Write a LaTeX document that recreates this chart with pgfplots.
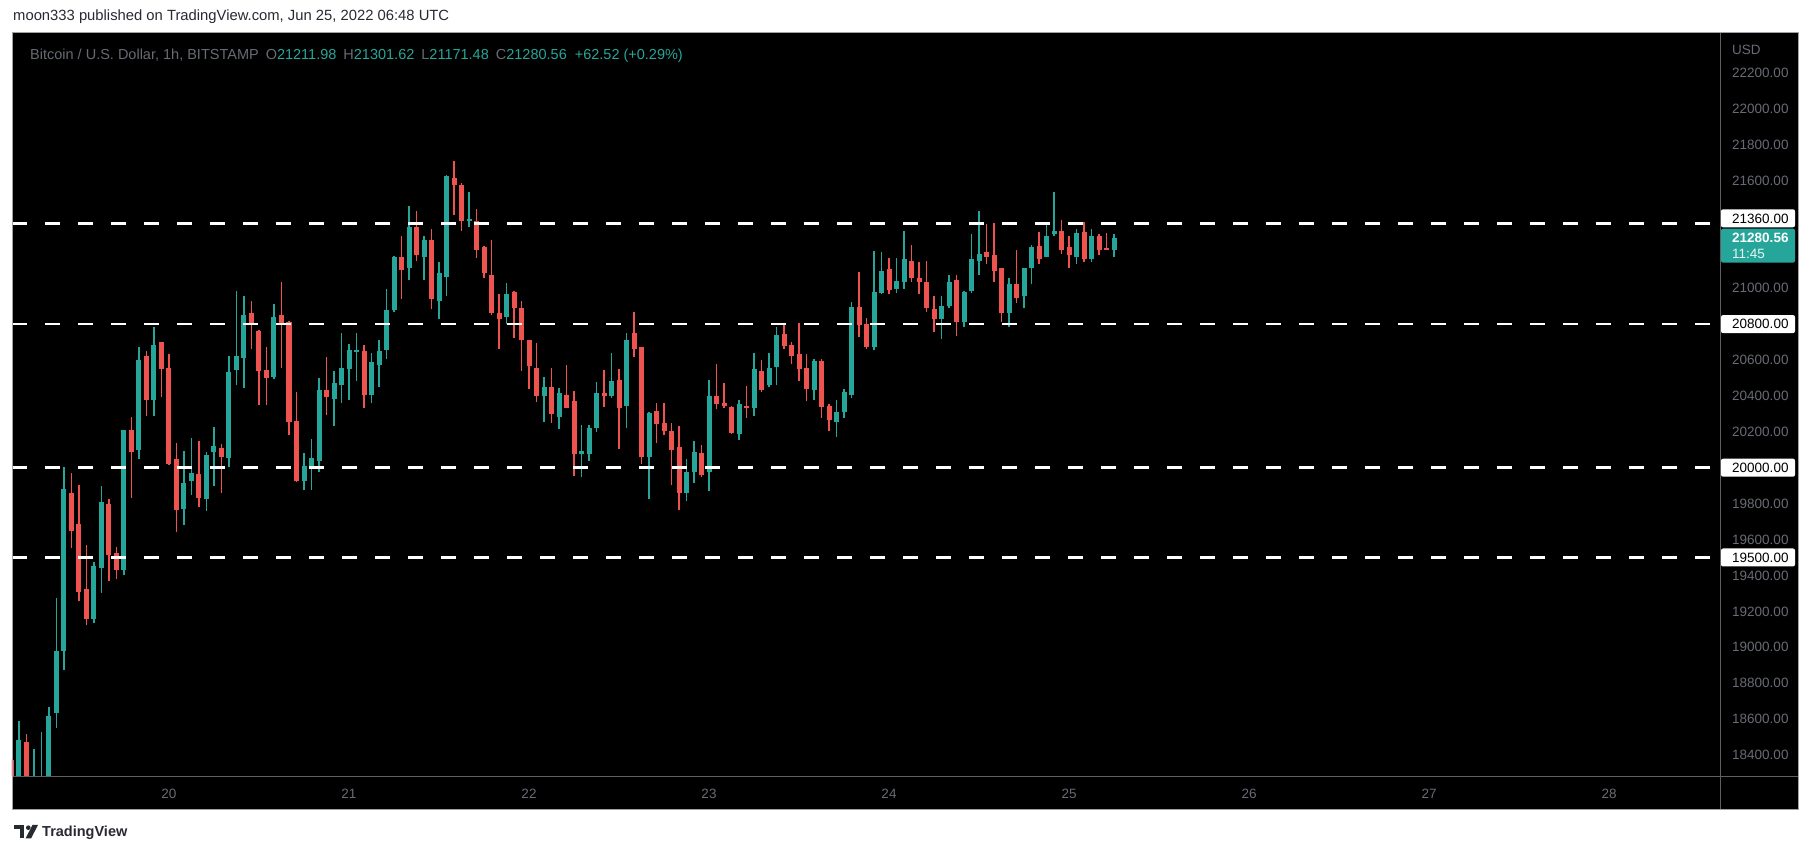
\documentclass[border=0pt]{standalone}
\usepackage{fontspec}
\setmainfont{Liberation Sans}
\usepackage{pgfplots}
\usepackage{pgfplotstable}
\pgfplotsset{compat=1.18}
\definecolor{tvgreen}{HTML}{26A69A}
\definecolor{tvred}{HTML}{EF5350}
\definecolor{scalegray}{RGB}{104,107,116}
\definecolor{sepgray}{RGB}{95,95,100}
\definecolor{bordgray}{RGB}{160,160,168}
\definecolor{toptext}{RGB}{40,42,50}

% h = hours since Jun 19 00:00 UTC; O H L C
\pgfplotstableread{
h O H L C
4 18250 18590 18200 18484
6 18150 18434 18100 18200
7 18200 18528 18150 18270
8 18250 18668 18200 18617
9 18634 19274 18553 18979
10 18979 20002 18873 19880
14 19157 19474 19135 19452
15 19441 19897 19302 19808
18 19430 20210 19402 20208
20 20097 20670 20047 20598
22 20377 20781 20288 20681
26 19770 20091 19680 19913
27 19926 20164 19847 19969
29 19824 20086 19758 20069
30 20086 20225 19897 20119
32 20052 20620 20002 20531
33 20542 20987 20458 20620
34 20609 20959 20442 20848
38 20508 20914 20492 20837
42 19926 20080 19874 20008
43 20002 20158 19874 20052
44 20036 20498 19976 20431
46 20381 20537 20231 20470
47 20459 20748 20359 20553
48 20548 20687 20375 20654
49 20643 20748 20481 20654
51 20403 20637 20359 20587
52 20570 20709 20448 20648
53 20654 20993 20603 20876
54 20876 21180 20870 21176
56 21110 21460 21048 21343
58 21176 21288 21048 21271
60 20926 21143 20826 21082
61 21060 21633 20954 21627
64 21376 21537 21343 21387
69 20837 21026 20803 20965
74 20397 20503 20253 20447
76 20280 20442 20214 20414
79 20075 20236 19947 20091
80 20075 20236 20036 20219
81 20219 20475 20200 20414
83 20397 20637 20386 20481
85 20342 20748 20219 20709
88 20058 20308 19824 20303
93 19858 20047 19813 19975
94 19975 20147 19914 20086
96 19975 20486 19869 20397
100 20186 20375 20153 20353
102 20331 20637 20287 20548
104 20459 20637 20448 20554
105 20559 20782 20459 20737
110 20431 20604 20376 20593
113 20253 20376 20170 20309
114 20309 20437 20276 20420
115 20404 20921 20387 20893
118 20671 21205 20654 20977
119 20971 21199 20965 21093
121 20993 21166 20971 21038
122 21032 21321 20998 21165
127 20826 20959 20715 20898
128 20898 21076 20887 21037
130 20809 20982 20781 20976
131 20982 21299 20971 21160
132 21154 21427 21076 21193
136 20859 21054 20781 21021
138 20954 21110 20887 21110
139 21110 21243 21021 21232
141 21171 21360 21171 21288
142 21299 21538 21293 21321
145 21171 21332 21137 21310
147 21160 21332 21148 21293
150 21211.98 21301.62 21171.48 21280.56
}\up

\pgfplotstableread{
h O H L C
3 18373 18380 18200 18250
5 18473 18517 18200 18250
11 19858 19969 19552 19646
12 19685 19902 19257 19307
13 19324 19569 19124 19157
16 19797 19824 19368 19513
17 19524 19557 19379 19430
19 20208 20280 19830 20086
21 20620 20648 20286 20375
23 20698 20700 20393 20549
24 20558 20631 20015 20021
25 20047 20136 19640 19765
28 19963 20147 19780 19830
31 20108 20130 19858 20058
35 20864 20926 20659 20798
36 20759 20765 20347 20536
37 20542 20675 20347 20497
39 20848 21037 20558 20803
40 20809 20815 20180 20253
41 20258 20419 19920 19926
45 20431 20615 20292 20392
50 20648 20681 20331 20403
55 21171 21288 20937 21099
57 21343 21432 21149 21182
59 21271 21332 20882 20937
62 21616 21710 21410 21577
63 21577 21588 21321 21376
65 21376 21443 21170 21215
66 21232 21235 21054 21087
67 21076 21270 20853 20864
68 20864 20965 20659 20831
70 20976 20982 20725 20892
71 20892 20931 20536 20709
72 20709 20712 20436 20564
73 20553 20692 20364 20397
75 20447 20553 20247 20297
77 20403 20570 20330 20330
78 20369 20425 19952 20075
82 20414 20542 20336 20397
84 20486 20548 20103 20331
86 20753 20865 20614 20664
87 20670 20675 20019 20058
89 20314 20358 20136 20242
90 20247 20358 20180 20203
91 20203 20247 19902 20097
92 20114 20231 19763 19858
95 20080 20125 19947 19958
97 20397 20575 20325 20353
98 20359 20470 20331 20342
99 20336 20342 20190 20192
101 20342 20453 20275 20331
103 20537 20598 20420 20431
106 20743 20793 20659 20676
107 20682 20698 20576 20621
108 20632 20804 20482 20548
109 20554 20632 20370 20437
111 20593 20604 20276 20337
112 20342 20354 20203 20265
116 20893 21088 20726 20793
117 20799 20832 20659 20671
120 21104 21166 20965 20988
123 21154 21243 21032 21054
124 21059 21143 20965 21032
125 21037 21154 20870 20887
126 20882 20954 20754 20826
129 21043 21071 20731 20809
133 21204 21360 21132 21176
134 21182 21365 21032 21093
135 21110 21115 20809 20859
137 21021 21215 20920 20948
140 21237 21315 21137 21160
143 21321 21377 21193 21210
144 21232 21293 21115 21182
146 21315 21371 21143 21165
148 21293 21299 21187 21215
149 21221 21310 21210 21212
}\down

\newcommand{\scalefont}{\fontsize{13.5}{16}\selectfont}

\begin{document}
\begin{tikzpicture}
\useasboundingbox (0pt,0pt) rectangle (1813pt,856pt);
\fill[white] (0pt,0pt) rectangle (1813pt,856pt);
\fill[black] (12pt,46pt) rectangle (1798pt,823pt);

\begin{axis}[
  at={(12pt,80pt)}, anchor=south west,
  scale only axis, width=1708pt, height=743pt,
  xmin=3.067, xmax=230.8, ymin=18283.3, ymax=22421.1,
  scaled y ticks=false, scaled x ticks=false,
  axis line style={draw=none},
  tick style={draw=none},
  major tick length=0pt,
  /pgf/number format/assume math mode=true,
  xtick={24,48,72,96,120,144,168,192,216},
  xticklabels={20,21,22,23,24,25,26,27,28},
  ytick={18400,18600,18800,19000,19200,19400,19600,19800,20200,20400,20600,21000,21600,21800,22000,22200},
  yticklabels={18400.00,18600.00,18800.00,19000.00,19200.00,19400.00,19600.00,19800.00,20200.00,20400.00,20600.00,21000.00,21600.00,21800.00,22000.00,22200.00},
  yticklabel pos=right,
  xticklabel style={anchor=north, inner sep=0pt, yshift=-13pt, text=scalegray, font=\scalefont},
  yticklabel style={anchor=west, inner sep=0pt, xshift=12pt, text=scalegray, font=\scalefont},
  clip=true,
]
% wicks
\addplot[forget plot, draw=none, mark=none,
  error bars/.cd, y dir=plus, y explicit, error mark=none,
  error bar style={draw=tvgreen, line width=1.1pt}]
  table[x=h, y=L, y error plus expr=\thisrow{H}-\thisrow{L}] {\up};
\addplot[forget plot, draw=none, mark=none,
  error bars/.cd, y dir=plus, y explicit, error mark=none,
  error bar style={draw=tvred, line width=1.1pt}]
  table[x=h, y=L, y error plus expr=\thisrow{H}-\thisrow{L}] {\down};
% bodies
\addplot[forget plot, draw=none, mark=none,
  error bars/.cd, y dir=plus, y explicit, error mark=none,
  error bar style={draw=tvgreen, line width=5pt}]
  table[x=h, y expr={min(\thisrow{O},\thisrow{C})}, y error plus expr={max(abs(\thisrow{C}-\thisrow{O}),6)}] {\up};
\addplot[forget plot, draw=none, mark=none,
  error bars/.cd, y dir=plus, y explicit, error mark=none,
  error bar style={draw=tvred, line width=5pt}]
  table[x=h, y expr={min(\thisrow{O},\thisrow{C})}, y error plus expr={max(abs(\thisrow{C}-\thisrow{O}),6)}] {\down};
% horizontal levels
\addplot[forget plot, white, line width=2.6pt, dash pattern=on 15pt off 18pt] coordinates {(3.067,21360) (230.8,21360)};
\addplot[forget plot, white, line width=2.6pt, dash pattern=on 15pt off 18pt] coordinates {(3.067,20800) (230.8,20800)};
\addplot[forget plot, white, line width=2.6pt, dash pattern=on 15pt off 18pt] coordinates {(3.067,20000) (230.8,20000)};
\addplot[forget plot, white, line width=2.6pt, dash pattern=on 15pt off 18pt] coordinates {(3.067,19500) (230.8,19500)};
\end{axis}

% separators and border
\draw[sepgray, line width=1pt] (12pt,79.5pt) -- (1798pt,79.5pt);
\draw[sepgray, line width=1pt] (1720.5pt,46pt) -- (1720.5pt,823pt);
\draw[bordgray, line width=1pt] (12pt,46pt) rectangle (1798pt,823pt);

% price scale title
\node[anchor=west, inner sep=0pt, text=scalegray, font=\scalefont] at (1732pt,806pt) {USD};

% level labels
\fill[white, rounded corners=2pt] (1721pt,628.7pt) rectangle (1795pt,646.7pt);
\node[anchor=west, inner sep=0pt, font=\scalefont] at (1732pt,637.6pt) {21360.00};
\fill[white, rounded corners=2pt] (1721pt,522.9pt) rectangle (1795pt,540.9pt);
\node[anchor=west, inner sep=0pt, font=\scalefont] at (1732pt,531.9pt) {20800.00};
\fill[white, rounded corners=2pt] (1721pt,379.3pt) rectangle (1795pt,397.3pt);
\node[anchor=west, inner sep=0pt, font=\scalefont] at (1732pt,388.3pt) {20000.00};
\fill[white, rounded corners=2pt] (1721pt,289.5pt) rectangle (1795pt,307.5pt);
\node[anchor=west, inner sep=0pt, font=\scalefont] at (1732pt,298.5pt) {19500.00};
% current price label
\fill[tvgreen, rounded corners=2pt] (1721pt,593.3pt) rectangle (1795pt,627.3pt);
\node[anchor=west, inner sep=0pt, text=white, font=\scalefont\bfseries] at (1732pt,618pt) {21280.56};
\node[anchor=west, inner sep=0pt, text=white!90!tvgreen, font=\scalefont] at (1732pt,602pt) {11:45};

% header texts
\node[anchor=base west, inner sep=0pt, text=toptext, font=\fontsize{14.8}{16}\selectfont] at (13pt,835.3pt)
  {moon333 published on TradingView.com, Jun 25, 2022 06:48 UTC};
\node[anchor=base west, inner sep=0pt, font=\fontsize{14.5}{16}\selectfont] at (30pt,796.5pt)
  {{\color{scalegray}Bitcoin / U.S. Dollar, 1h, BITSTAMP\hspace{7pt}O}{\color{tvgreen}21211.98}\hspace{7pt}{\color{scalegray}H}{\color{tvgreen}21301.62}\hspace{7pt}{\color{scalegray}L}{\color{tvgreen}21171.48}\hspace{7pt}{\color{scalegray}C}{\color{tvgreen}21280.56}\hspace{8pt}{\color{tvgreen}+62.52 (+0.29\%)}};

% TradingView logo
\fill[toptext] (14pt,31pt) rectangle (24pt,27pt);
\fill[toptext] (20pt,27pt) rectangle (24pt,17.5pt);
\fill[toptext] (28.3pt,28.3pt) circle (2.3pt);
\fill[toptext] (32.5pt,31pt) -- (38pt,31pt) -- (31pt,17.5pt) -- (25.5pt,17.5pt) -- cycle;
\node[anchor=base west, inner sep=0pt, text=toptext, font=\fontsize{14.5}{16}\selectfont\bfseries] at (42pt,19pt) {TradingView};
\end{tikzpicture}
\end{document}
